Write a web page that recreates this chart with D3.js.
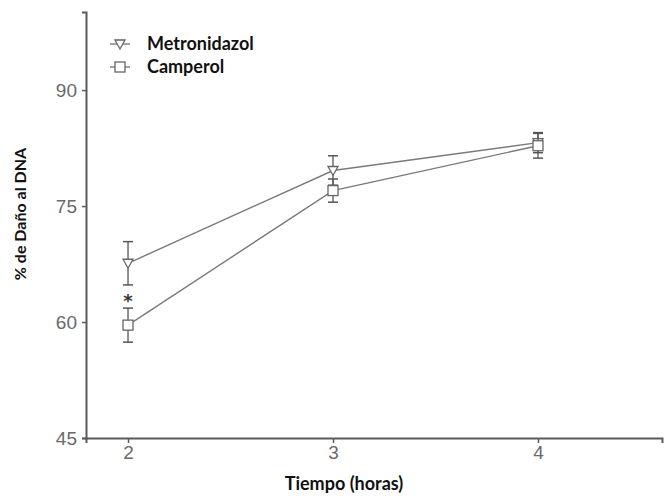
<!DOCTYPE html>
<html><head><meta charset="utf-8">
<script src="https://cdn.jsdelivr.net/npm/d3@7"></script>
<style>body{margin:0;background:#fff;} svg{display:block;}</style>
</head><body>
<svg id="c" width="670" height="496"></svg>
<script>
const hours = [2, 3, 4];
const seriesNames = ["Metronidazol", "Camperol"];
const metronidazol = [67.6, 79.6, 83.2];
const metronidazolErr = [2.8, 1.9, 1.3];
const camperol = [59.6, 77.0, 82.8];
const camperolErr = [2.2, 1.5, 1.6];
const yTicks = [45, 60, 75, 90];
const xTicks = [2, 3, 4];
const starAt = {x: 2, y: 63.2};

const svg = d3.select("#c");
const x = d3.scaleLinear().domain([1.795, 4.605]).range([86, 662]);
const y = d3.scaleLinear().domain([45, 100.1]).range([438, 12]);
const axisCol = "#5a5a5a", lineCol = "#7a7a7a", tickTxt = "#6a6a6a";

// axes
const gy = svg.append("g").attr("transform", "translate(86,0)")
  .call(d3.axisLeft(y).tickValues(yTicks).tickSize(4).tickPadding(5).tickFormat(d3.format("d")));
const gx = svg.append("g").attr("transform", "translate(0,438)")
  .call(d3.axisBottom(x).tickValues(xTicks).tickSize(5).tickPadding(3).tickFormat(d3.format("d")));
[gx, gy].forEach(g => {
  g.select(".domain").attr("stroke", axisCol).attr("stroke-width", 2);
  g.selectAll(".tick line").attr("stroke", axisCol).attr("stroke-width", 1.5);
  g.selectAll(".tick text").attr("fill", tickTxt).attr("font-family", "Liberation Sans, Arial, sans-serif").attr("font-size", 19);
});

const series = [
  {name: seriesNames[0], vals: metronidazol, err: metronidazolErr, sym: "tri"},
  {name: seriesNames[1], vals: camperol, err: camperolErr, sym: "sq"}
];

function drawMarker(g, sym, cx, cy) {
  if (sym === "tri") {
    g.append("path").attr("d", `M${cx-5},${cy-4}L${cx+5},${cy-4}L${cx},${cy+5}Z`)
      .attr("fill", "#fff").attr("stroke", "#666").attr("stroke-width", 1.3);
  } else {
    g.append("rect").attr("x", cx-5).attr("y", cy-5).attr("width", 10).attr("height", 10)
      .attr("fill", "#fff").attr("stroke", "#666").attr("stroke-width", 1.3);
  }
}

const line = d3.line().x((d, i) => x(hours[i])).y(d => y(d));
series.forEach(s => {
  svg.append("path").attr("d", line(s.vals)).attr("fill", "none").attr("stroke", lineCol).attr("stroke-width", 1.4);
});
series.forEach(s => {
  const g = svg.append("g");
  s.vals.forEach((v, i) => {
    const cx = x(hours[i]);
    const top = y(v + s.err[i]), bot = y(v - s.err[i]);
    g.append("line").attr("x1", cx).attr("x2", cx).attr("y1", top).attr("y2", bot).attr("stroke", "#555").attr("stroke-width", 1.3);
    [top, bot].forEach(yy => g.append("line").attr("x1", cx-5).attr("x2", cx+5).attr("y1", yy).attr("y2", yy).attr("stroke", "#555").attr("stroke-width", 1.5));
  });
  s.vals.forEach((v, i) => drawMarker(g, s.sym, x(hours[i]), y(v)));
});

// significance star
svg.append("text").attr("x", x(starAt.x)).attr("y", y(starAt.y) + 10).attr("text-anchor", "middle")
  .attr("font-family", "DejaVu Sans, sans-serif").attr("font-weight", "bold").attr("font-size", 18).attr("fill", "#333").text("*");

// legend
const lg = svg.append("g");
series.forEach((s, i) => {
  const ly = 44 + i * 23;
  lg.append("line").attr("x1", 110).attr("x2", 130).attr("y1", ly).attr("y2", ly).attr("stroke", lineCol).attr("stroke-width", 1.4);
  drawMarker(lg, s.sym, 120, ly);
  lg.append("text").attr("x", 147).attr("y", ly + 6).attr("font-family", "Lato, Open Sans, sans-serif")
    .attr("font-weight", "bold").attr("font-size", 18).attr("fill", "#111").text(s.name);
});

// axis titles
svg.append("text").attr("transform", "translate(26,214) rotate(-90)").attr("text-anchor", "middle")
  .attr("font-family", "Lato, Open Sans, sans-serif").attr("font-weight", "bold").attr("font-size", 16).attr("fill", "#111")
  .text("% de Daño al DNA");
svg.append("text").attr("x", 344).attr("y", 490).attr("text-anchor", "middle")
  .attr("font-family", "Lato, Open Sans, sans-serif").attr("font-weight", "bold").attr("font-size", 18).attr("fill", "#111")
  .text("Tiempo (horas)");
</script>
</body></html>
